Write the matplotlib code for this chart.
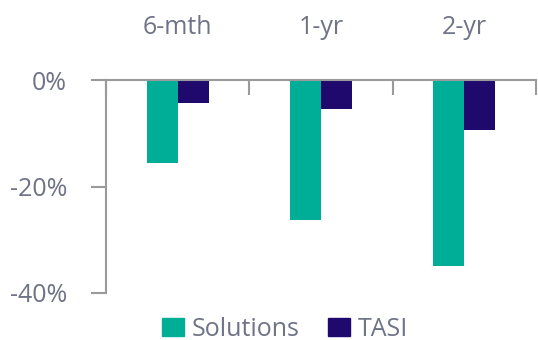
import matplotlib
matplotlib.use("Agg")
import matplotlib.pyplot as plt
import numpy as np
from matplotlib.patches import Patch

categories = ["6-mth", "1-yr", "2-yr"]
solutions = [-15.6, -26.3, -34.9]
tasi = [-4.4, -5.5, -9.4]
series_names = ["Solutions", "TASI"]
y_ticks = [0, -20, -40]
y_tick_labels = ["0%", "-20%", "-40%"]

teal = "#00AE98"
navy = "#20096C"
text_grey = "#6E7386"
axis_grey = "#9A9A9A"

plt.rcParams["font.family"] = ["Open Sans", "DejaVu Sans"]
FS = 18

W, H = 538, 340
fig = plt.figure(figsize=(W / 100, H / 100), dpi=100)
ax = fig.add_axes([106 / W, 1 - 293 / H, (536 - 106) / W, (293 - 80) / H])

x = np.arange(len(categories))
bw = 0.217
ax.bar(x - bw / 2, solutions, bw, color=teal, label=series_names[0])
ax.bar(x + bw / 2, tasi, bw, color=navy, label=series_names[1])

ax.set_xlim(-0.5, len(categories) - 0.5)
ax.set_ylim(-40, 0)

for s in ["bottom", "right"]:
    ax.spines[s].set_visible(False)
for s in ["top", "left"]:
    ax.spines[s].set_color(axis_grey)
    ax.spines[s].set_linewidth(1.5)

# category separators along the zero line, labels above
ax.xaxis.tick_top()
ax.set_xticks(x)
ax.set_xticklabels(categories)
ax.set_xticks(np.arange(-0.5, len(categories), 1.0), minor=True)
ax.tick_params(axis="x", which="major", length=0, pad=29, labelsize=FS,
               labelcolor=text_grey)
ax.tick_params(axis="x", which="minor", direction="in", length=11, width=1.5,
               color=axis_grey)

ax.set_yticks(y_ticks)
ax.set_yticklabels(y_tick_labels)
ax.tick_params(axis="y", direction="out", length=11, width=1.5, color=axis_grey,
               pad=17, labelsize=FS, labelcolor=text_grey)

handles = [Patch(color=teal), Patch(color=navy)]
fig.legend(handles, series_names, loc="center", bbox_to_anchor=(285 / W, 1 - 329 / H),
           ncol=2, frameon=False, fontsize=FS, labelcolor=text_grey,
           handlelength=0.88, handleheight=0.72, handletextpad=0.32, columnspacing=1.1,
           borderpad=0, borderaxespad=0)

fig.savefig("out.png", dpi=100)
